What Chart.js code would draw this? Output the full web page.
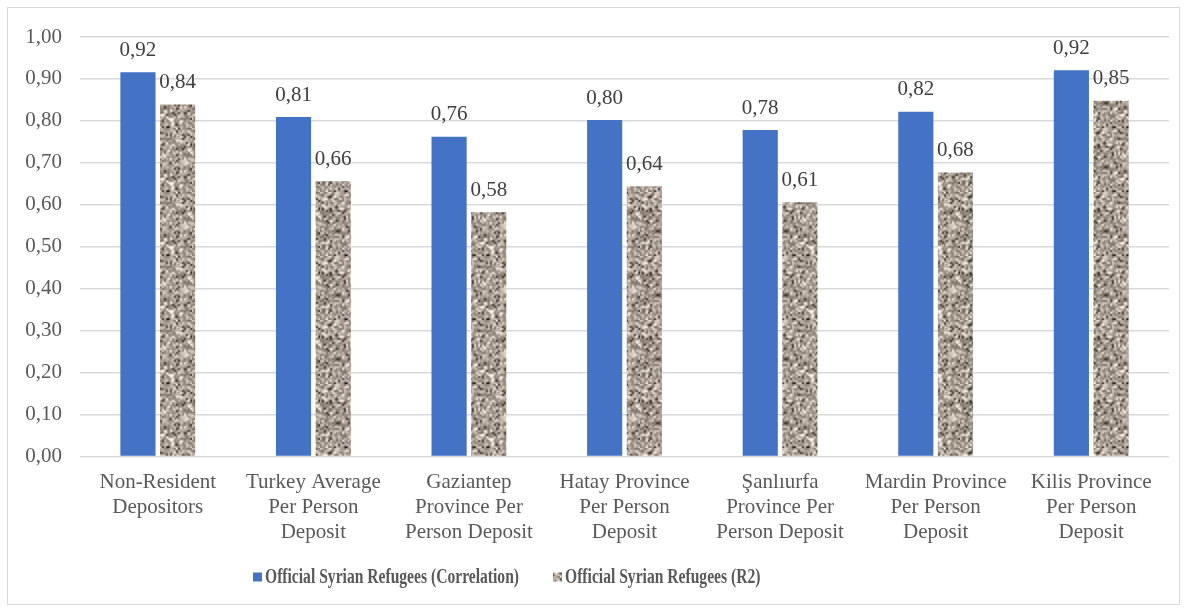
<!DOCTYPE html>
<html>
<head>
<meta charset="utf-8">
<script src="https://cdn.jsdelivr.net/npm/chart.js@4.4.1/dist/chart.umd.min.js"></script>
<style>
  html, body { margin: 0; padding: 0; background: #fff; }
  #wrap { position: relative; width: 1187px; height: 610px; }
  #frame { position: absolute; left: 7px; top: 7px; width: 1173px; height: 598px; border: 1px solid #d9d9d9; box-sizing: border-box; pointer-events: none; }
  canvas { position: absolute; left: 0; top: 0; }
</style>
</head>
<body>
<div id="wrap">
  <canvas id="c" width="1187" height="610"></canvas>
  <div id="frame"></div>
</div>
<script>
// Categories (multi-line axis labels)
const categories = [
  ["Non-Resident", "Depositors"],
  ["Turkey Average", "Per Person", "Deposit"],
  ["Gaziantep", "Province Per", "Person Deposit"],
  ["Hatay Province", "Per Person", "Deposit"],
  ["Şanlıurfa", "Province Per", "Person Deposit"],
  ["Mardin Province", "Per Person", "Deposit"],
  ["Kilis Province", "Per Person", "Deposit"]
];

// Series values
const correlationValues = [0.916, 0.809, 0.762, 0.802, 0.778, 0.822, 0.921];
const r2Values = [0.839, 0.656, 0.582, 0.644, 0.606, 0.677, 0.848];

const seriesNames = [
  "Official Syrian Refugees (Correlation)",
  "Official Syrian Refugees (R2)"
];

// Y axis ticks
const yTicks = [0, 0.1, 0.2, 0.3, 0.4, 0.5, 0.6, 0.7, 0.8, 0.9, 1.0];

const fmt = v => v.toFixed(2).replace(".", ",");
const SERIF = "'Liberation Serif', 'Times New Roman', serif";

// Granite-like texture for the second series (deterministic speckle)
function makeGranite() {
  const n = 32, scale = 2, size = n * scale;
  const raw = document.createElement("canvas");
  raw.width = n; raw.height = n;
  const g = raw.getContext("2d");
  const img = g.createImageData(n, n);
  let seed = 424242;
  const rnd = () => { seed = (seed * 1103515245 + 12345) & 0x7fffffff; return seed / 0x7fffffff; };
  for (let i = 0; i < n * n; i++) {
    const f = rnd();
    let d = (f - 0.5) * 120;
    if (f < 0.08) d -= 55;
    if (f > 0.94) d += 30;
    const k = i * 4;
    img.data[k] = Math.max(0, Math.min(255, 168 + d));
    img.data[k + 1] = Math.max(0, Math.min(255, 157 + d));
    img.data[k + 2] = Math.max(0, Math.min(255, 146 + d));
    img.data[k + 3] = 255;
  }
  g.putImageData(img, 0, 0);
  // enlarge on a 3x3 tiling with smoothing so the repeat seams stay invisible
  const big = document.createElement("canvas");
  big.width = size * 3; big.height = size * 3;
  const gb = big.getContext("2d");
  gb.imageSmoothingEnabled = true;
  gb.imageSmoothingQuality = "high";
  for (let i = 0; i < 3; i++) for (let j = 0; j < 3; j++) gb.drawImage(raw, i * size, j * size, size, size);
  const soft = document.createElement("canvas");
  soft.width = size * 3; soft.height = size * 3;
  const gs = soft.getContext("2d");
  gs.filter = "blur(0.4px)";
  gs.drawImage(big, 0, 0);
  const tile = document.createElement("canvas");
  tile.width = size; tile.height = size;
  tile.getContext("2d").drawImage(soft, size, size, size, size, 0, 0, size, size);
  return document.getElementById("c").getContext("2d").createPattern(tile, "repeat");
}

const granite = makeGranite();

// Value labels above each bar
const valueLabels = {
  id: "valueLabels",
  afterDatasetsDraw(chart) {
    const ctx = chart.ctx;
    ctx.save();
    ctx.font = "21px " + SERIF;
    ctx.fillStyle = "#404040";
    ctx.textAlign = "center";
    ctx.textBaseline = "middle";
    chart.data.datasets.forEach((ds, i) => {
      const meta = chart.getDatasetMeta(i);
      meta.data.forEach((bar, j) => {
        ctx.fillText(fmt(ds.data[j]), bar.x, bar.y - 22);
      });
    });
    ctx.restore();
  }
};

// Bottom legend with narrow bold serif text
const narrowLegend = {
  id: "narrowLegend",
  afterDraw(chart) {
    const ctx = chart.ctx;
    const squeeze = 0.78;
    const box = 9, gap = 3, spacing = 34;
    const y = 577;
    ctx.save();
    ctx.font = "bold 20px " + SERIF;
    let x = 253;
    chart.data.datasets.forEach(ds => {
      const w = ctx.measureText(ds.label).width * squeeze;
      ctx.fillStyle = ds.backgroundColor;
      ctx.fillRect(x, y - box / 2, box, box);
      x += box + gap;
      ctx.save();
      ctx.translate(x, y);
      ctx.scale(squeeze, 1);
      ctx.fillStyle = "#595959";
      ctx.textAlign = "left";
      ctx.textBaseline = "middle";
      ctx.fillText(ds.label, 0, 1);
      ctx.restore();
      x += w + spacing;
    });
    ctx.restore();
  }
};

new Chart(document.getElementById("c"), {
  type: "bar",
  data: {
    labels: categories,
    datasets: [
      {
        label: seriesNames[0],
        data: correlationValues,
        backgroundColor: "#4472c4",
        categoryPercentage: 0.51,
        barPercentage: 0.886
      },
      {
        label: seriesNames[1],
        data: r2Values,
        backgroundColor: granite,
        categoryPercentage: 0.51,
        barPercentage: 0.886
      }
    ]
  },
  options: {
    responsive: false,
    animation: false,
    devicePixelRatio: 1,
    layout: { padding: { left: 0, right: 18, top: 37, bottom: 60 } },
    plugins: {
      legend: { display: false },
      tooltip: { enabled: false }
    },
    scales: {
      x: {
        grid: { display: false },
        border: { display: false },
        ticks: {
          color: "#595959",
          font: { family: SERIF, size: 21, lineHeight: 1.2 },
          maxRotation: 0,
          autoSkip: false,
          padding: 5
        }
      },
      y: {
        min: 0,
        max: 1,
        afterBuildTicks(scale) { scale.ticks = yTicks.map(v => ({ value: v })); },
        afterFit(scale) { scale.width = 80; },
        grid: { color: "#d9d9d9", lineWidth: 1.5, drawTicks: false },
        border: { display: false },
        ticks: {
          color: "#595959",
          font: { family: SERIF, size: 21 },
          padding: 18,
          callback: v => fmt(v)
        }
      }
    }
  },
  plugins: [valueLabels, narrowLegend]
});
</script>
</body>
</html>
